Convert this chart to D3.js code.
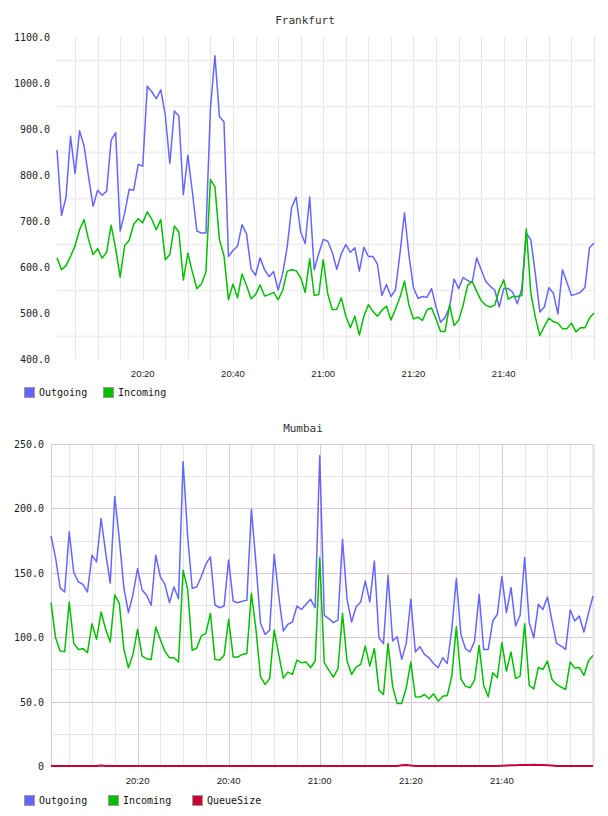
<!DOCTYPE html>
<html>
<head>
<meta charset="utf-8">
<script src="https://cdn.jsdelivr.net/npm/d3@7"></script>
<style>
  body { margin: 0; background: #fff; }
  svg { display: block; }
</style>
</head>
<body>
<script>
// samples: one per minute, 20:01 .. 22:00
var startTime = new Date(2020, 0, 1, 20, 1);
var times = d3.range(120).map(function(i) { return d3.timeMinute.offset(startTime, i); });

var frankfurtOut = [
  854, 712, 752, 884, 803, 896, 863, 796, 732, 767, 756, 765, 876, 892, 678, 717, 769, 767, 823, 819,
  993, 981, 966, 985, 930, 825, 939, 928, 757, 843, 763, 678, 674, 674, 945, 1059, 927, 916, 623, 636,
  645, 692, 672, 596, 582, 620, 594, 579, 590, 550, 585, 643, 730, 752, 676, 651, 752, 594, 629, 660,
  656, 632, 595, 629, 649, 632, 642, 591, 643, 623, 623, 606, 538, 562, 536, 550, 629, 718, 625, 555,
  532, 536, 534, 553, 513, 480, 490, 513, 574, 553, 577, 571, 566, 620, 594, 569, 558, 550, 513, 553,
  553, 545, 520, 553, 674, 659, 585, 502, 513, 555, 543, 498, 594, 567, 538, 541, 545, 556, 642, 652
];
var frankfurtIn = [
  620, 594, 603, 623, 646, 681, 703, 659, 627, 640, 619, 632, 691, 640, 578, 647, 658, 693, 705, 696,
  720, 704, 681, 703, 616, 627, 689, 676, 572, 630, 589, 553, 563, 589, 790, 774, 659, 625, 529, 563,
  533, 585, 560, 531, 540, 561, 537, 540, 545, 529, 549, 591, 594, 592, 577, 545, 618, 538, 540, 616,
  542, 507, 508, 533, 493, 468, 493, 452, 493, 518, 504, 493, 506, 515, 485, 508, 534, 569, 517, 487,
  491, 484, 507, 511, 487, 460, 460, 517, 473, 484, 517, 560, 569, 547, 527, 517, 513, 517, 550, 572,
  530, 536, 536, 538, 683, 543, 491, 451, 471, 489, 481, 478, 466, 466, 478, 459, 468, 468, 489, 500
];
var mumbaiOut = [
  178.7, 161.8, 138.5, 135.1, 181.8, 150.2, 142.9, 141.1, 135.1, 163.7, 158.5, 192.2, 165.7, 141.9, 209.3, 176.1, 138.5, 119.1, 133.3, 153.3,
  136.7, 132.5, 124.8, 163.7, 147.1, 141.1, 126.8, 139.0, 129.9, 236.3, 178.7, 138.0, 139.0, 147.1, 156.7, 162.4, 125.0, 122.9, 124.2, 160.0,
  128.1, 126.8, 127.9, 128.6, 199.4, 157.4, 110.8, 102.2, 105.3, 164.4, 132.0, 104.8, 110.0, 111.8, 124.2, 121.6, 125.5, 129.4, 122.9, 240.9,
  117.0, 114.4, 111.3, 113.3, 176.1, 129.4, 111.8, 123.7, 127.3, 143.7, 127.3, 159.2, 99.6, 95.0, 148.1, 97.0, 100.4, 82.8, 95.2, 129.4,
  88.5, 92.6, 86.6, 84.0, 79.6, 76.3, 84.0, 79.6, 106.1, 145.5, 102.2, 91.1, 88.5, 97.0, 133.3, 90.5, 90.5, 112.6, 117.8, 147.1,
  119.1, 138.5, 108.7, 117.0, 161.8, 111.3, 99.6, 125.5, 121.6, 131.2, 112.6, 95.2, 93.1, 90.5, 121.1, 112.6, 116.5, 104.0, 118.5, 132.0
];
var mumbaiIn = [
  126.8, 99.6, 89.2, 88.7, 127.3, 95.2, 90.5, 91.1, 87.9, 110.5, 98.3, 119.6, 106.1, 96.2, 132.8, 126.3, 90.5, 76.3, 86.6, 106.1,
  85.3, 83.3, 82.7, 107.9, 98.3, 89.2, 84.0, 84.0, 80.7, 152.0, 137.2, 89.8, 91.6, 101.0, 103.0, 118.5, 82.7, 82.2, 85.9, 113.9,
  84.6, 84.6, 86.6, 87.4, 134.1, 106.1, 69.3, 63.3, 67.7, 105.6, 86.6, 68.2, 72.9, 71.1, 82.2, 80.2, 80.7, 76.3, 81.5, 161.8,
  80.2, 74.5, 69.0, 75.5, 118.5, 81.5, 71.1, 76.8, 78.9, 93.1, 77.6, 91.3, 58.9, 55.5, 95.2, 62.0, 48.5, 48.5, 60.7, 80.7,
  53.7, 53.5, 55.5, 52.2, 56.0, 50.3, 54.2, 54.7, 69.8, 108.2, 67.7, 62.0, 60.7, 66.7, 93.6, 62.5, 53.7, 72.4, 68.5, 95.7,
  73.7, 88.5, 68.0, 69.8, 110.5, 62.5, 59.9, 76.5, 75.0, 81.5, 67.2, 63.3, 61.3, 59.4, 80.7, 76.0, 76.5, 70.3, 81.5, 85.9
];
var mumbaiQueue = [
  0, 0, 0, 0, 0, 0, 0, 0, 0, 0, 0, 0.3, 0, 0, 0, 0, 0, 0, 0, 0,
  0, 0, 0, 0, 0, 0, 0, 0, 0, 0, 0, 0, 0, 0, 0, 0, 0, 0, 0, 0,
  0, 0, 0, 0, 0, 0, 0, 0, 0, 0, 0, 0, 0, 0, 0, 0, 0, 0, 0, 0,
  0, 0, 0, 0, 0, 0, 0, 0, 0, 0, 0, 0, 0, 0, 0, 0, 0, 0.5, 0.8, 0.3,
  0, 0, 0, 0, 0, 0, 0, 0, 0, 0, 0, 0, 0, 0, 0, 0, 0, 0, 0, 0.2,
  0.4, 0.5, 0.6, 0.7, 0.8, 0.8, 0.9, 0.8, 0.7, 0.5, 0.3, 0, 0, 0, 0, 0, 0, 0, 0, 0
];

var frankfurtTicks = [400, 500, 600, 700, 800, 900, 1000, 1100];
var frankfurtGrid = [450, 550, 650, 750, 850, 950, 1050];
var mumbaiTicks = [0, 50, 100, 150, 200, 250];
var mumbaiGrid = [25, 75, 125, 175, 225];

var blue = "#6666ff", green = "#00c000", red = "#cc0033";

var svg = d3.select("body").append("svg")
  .attr("width", 608)
  .attr("height", 816);

function fmtY(v) { return v === 0 ? "0" : d3.format(".1f")(v); }

function drawChart(c) {
  var x = d3.scaleTime()
    .domain([times[0], times[times.length - 1]])
    .range([c.left, c.right]);
  var y = d3.scaleLinear()
    .domain(c.domain)
    .range([c.bottom, c.top]);

  var g = svg.append("g");

  // title
  g.append("text")
    .attr("x", c.titleX)
    .attr("y", c.titleY)
    .attr("text-anchor", "middle")
    .attr("font-family", "DejaVu Sans Mono")
    .attr("font-size", "11px")
    .attr("fill", "#333")
    .text(c.title);

  // grid: 5 minute lines
  var minor = d3.timeMinute.every(5).range(times[0], d3.timeMinute.offset(times[times.length - 1], 1));
  g.append("g").selectAll("line")
    .data(minor)
    .enter()
    .append("line")
    .attr("x1", function(d) { return Math.round(x(d)) + 0.5; })
    .attr("x2", function(d) { return Math.round(x(d)) + 0.5; })
    .attr("y1", c.top)
    .attr("y2", c.bottom)
    .attr("stroke", function(d) {
      return c.pink && d.getMinutes() % 20 == 0 ? "#dfc5df" : "#e6e6e6";
    })
    .attr("stroke-width", 1);

  // grid: horizontal minor
  g.append("g").selectAll("line")
    .data(c.grid)
    .enter()
    .append("line")
    .attr("x1", c.left)
    .attr("x2", c.right)
    .attr("y1", function(d) { return Math.round(y(d)) + 0.5; })
    .attr("y2", function(d) { return Math.round(y(d)) + 0.5; })
    .attr("stroke", c.pink ? "#e6e6e6" : "#f0f0f0")
    .attr("stroke-width", c.pink ? 1 : 2);

  if (c.pink) {
    g.append("g").selectAll("line")
      .data(c.ticks.filter(function(d) { return d > 0; }))
      .enter()
      .append("line")
      .attr("x1", c.left)
      .attr("x2", c.right)
      .attr("y1", function(d) { return Math.round(y(d)) + 0.5; })
      .attr("y2", function(d) { return Math.round(y(d)) + 0.5; })
      .attr("stroke", "#dfc5df");
    g.append("line")
      .attr("x1", c.left + 0.5).attr("x2", c.left + 0.5)
      .attr("y1", c.top).attr("y2", c.bottom)
      .attr("stroke", "#dfc5df");
    g.append("line")
      .attr("x1", c.right + 0.5).attr("x2", c.right + 0.5)
      .attr("y1", c.top).attr("y2", c.bottom)
      .attr("stroke", "#ead8ea").attr("stroke-width", 2);
  }

  // y labels
  g.append("g").selectAll("text")
    .data(c.ticks)
    .enter()
    .append("text")
    .attr("x", c.left - 7)
    .attr("y", function(d) { return y(d) + 4; })
    .attr("text-anchor", "end")
    .attr("font-family", "DejaVu Sans Mono")
    .attr("font-size", "10px")
    .attr("fill", "#222")
    .text(fmtY);

  // x labels
  var labelTimes = d3.timeMinute.every(20).range(times[0], times[times.length - 1]);
  g.append("g").selectAll("text")
    .data(labelTimes)
    .enter()
    .append("text")
    .attr("x", function(d) { return x(d); })
    .attr("y", c.bottom + 18)
    .attr("text-anchor", "middle")
    .attr("font-family", "Liberation Sans")
    .attr("font-size", "9.5px")
    .attr("fill", "#222")
    .text(d3.timeFormat("%H:%M"));

  // lines
  var line = d3.line()
    .x(function(d, i) { return x(times[i]); })
    .y(function(d) { return y(d); });

  c.series.forEach(function(s) {
    g.append("path")
      .datum(s.values)
      .attr("d", line)
      .attr("fill", "none")
      .attr("stroke", s.color)
      .attr("stroke-width", s.width || 1.5)
      .attr("stroke-linejoin", "round");
  });

  // legend
  c.series.forEach(function(s, k) {
    var lx = c.legendX[k];
    g.append("rect")
      .attr("x", lx + 0.5)
      .attr("y", c.legendY + 0.5)
      .attr("width", 10)
      .attr("height", 10)
      .attr("fill", s.color)
      .attr("stroke", "#999");
    g.append("text")
      .attr("x", lx + 15)
      .attr("y", c.legendY + 9)
      .attr("font-family", "DejaVu Sans Mono")
      .attr("font-size", "10px")
      .attr("fill", "#111")
      .text(s.name);
  });
}

drawChart({
  title: "Frankfurt", titleX: 305, titleY: 24,
  left: 57, right: 594, top: 37, bottom: 359,
  domain: [400, 1100], ticks: frankfurtTicks, grid: frankfurtGrid, pink: false,
  legendX: [24, 103], legendY: 387,
  series: [
    { name: "Outgoing", values: frankfurtOut, color: blue },
    { name: "Incoming", values: frankfurtIn, color: green }
  ]
});

drawChart({
  title: "Mumbai", titleX: 303, titleY: 432,
  left: 51, right: 593, top: 444, bottom: 766,
  domain: [0, 250], ticks: mumbaiTicks, grid: mumbaiGrid, pink: true,
  legendX: [24, 108, 192], legendY: 795,
  series: [
    { name: "Outgoing", values: mumbaiOut, color: blue },
    { name: "Incoming", values: mumbaiIn, color: green },
    { name: "QueueSize", values: mumbaiQueue, color: red, width: 2 }
  ]
});
</script>
</body>
</html>
